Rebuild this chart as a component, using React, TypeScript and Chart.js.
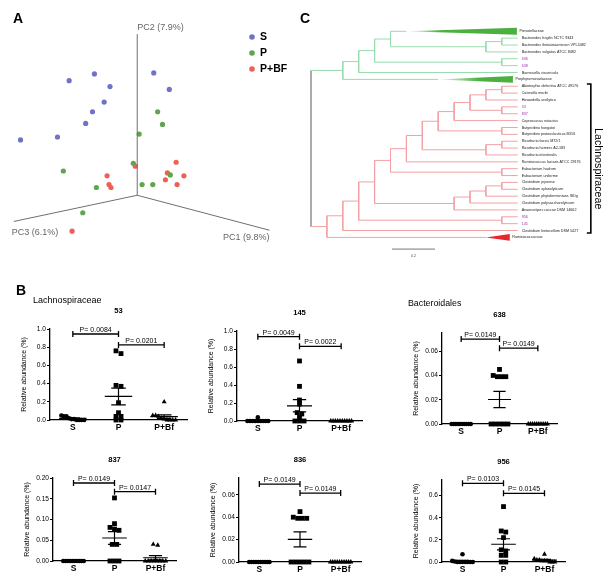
import React, { useEffect, useRef } from 'react';
import { Chart, registerables } from 'chart.js';

Chart.register(...registerables);

const FONT = "'Liberation Sans', Arial, Helvetica, sans-serif";
Chart.defaults.font.family = FONT;

// ---------------- Panel A: PCoA ----------------
const pcaGroupNames = ['S', 'P', 'P+BF'];
const pcaGroupColors = ['#6e73c8', '#5fa54b', '#f05f55'];
const pcaSx = [-70, -44, -28, -34, -46, -53, -82, -120, 17, 33];
const pcaSy = [118, 125, 112, 96, 86, 74, 60, 57, 126, 109];
const pcaPx = [21, 26, 2, -4, -76, -42, 5, 16, 34, -56];
const pcaPy = [86, 73, 63, 33, 25, 8, 11, 11, 21, -18];
const pcaPBFx = [40, -2, -31, 31, 29, 48, 41, -29, -27, -67];
const pcaPBFy = [34, 30, 20, 23, 16, 20, 11, 11, 8, -37];
const pcAxisNames = ['PC1 (9.8%)', 'PC2 (7.9%)', 'PC3 (6.1%)'];
const pcAxisEndX = [136, 0, -127];
const pcAxisEndY = [-36, 166, -27];

// ---------------- Panel C: tree ----------------
const treeLeaves = [
  'Prevotellaceae',
  'Bacteroides fragilis NCTC 9343',
  'Bacteroides thetaiotaomicron VPI-5482',
  'Bacteroides vulgatus ATCC 8482',
  '636',
  '638',
  'Barnesiella viscericola',
  'Porphyromonadaceae',
  'Abiotrophia defectiva ATCC 49176',
  'Catonella morbi',
  'Howardella ureilytica',
  '53',
  '837',
  'Coprococcus eutactus',
  'Butyrivibrio hungatei',
  'Butyrivibrio proteoclasticus B316',
  'Roseburia faecis M72/1',
  'Roseburia hominis A2-183',
  'Roseburia intestinalis',
  'Ruminococcus lactaris ATCC 29176',
  'Eubacterium hadrum',
  'Eubacterium uniforme',
  'Clostridium jejuense',
  'Clostridium xylanolyticum',
  'Clostridium phytofermentans ISDg',
  'Clostridium polysaccharolyticum',
  'Anaerostipes caccae DSM 14662',
  '956',
  '145',
  'Clostridium lentocellum DSM 5427',
  'Ruminococcaceae',
];
type TNode = { d: number; c: (TNode | number)[] };
const nd = (d: number, ...c: (TNode | number)[]): TNode => ({ d, c });
const LEAF_DEPTH = 13;
const treeRoot: TNode = nd(0,
  nd(2, nd(3, nd(4, nd(5, 0, nd(11, nd(12, 1, 2), 3)), nd(12, 4, 5)), 6), 7),
  nd(1,
    nd(2,
      nd(3,
        nd(4,
          nd(5,
            nd(6,
              nd(7,
                nd(8,
                  nd(9,
                    nd(10, nd(11, nd(12, 8, 9), 10), nd(12, 11, 12)),
                    13),
                  nd(12, 14, 15)),
                nd(11, nd(12, 16, 17), 18)),
              19),
            nd(12, 20, 21)),
          nd(9, nd(10, nd(11, nd(12, 22, 23), 24), 25), 26)),
        nd(12, 27, 28)),
      29),
    30)
);
const treeTriangles = [
  { leaf: 0, apex: 6, end: 12.95, color: '#4cb040', fade: 0.3 },
  { leaf: 7, apex: 8, end: 12.7, color: '#4cb040', fade: 0.55 },
  { leaf: 30, apex: 11, end: 12.5, color: '#e8262b', fade: 0 },
];
const GREEN = '#98dcae';
const PINK = '#f3a1a5';
const GRAY = '#a0a0a0';

// ---------------- Panel B: dot plots ----------------
const cats = ['S', 'P', 'P+Bf'];
const s53 = [0.05, 0.04, 0.04, 0.02, 0.01, 0.01, 0, 0, 0, 0];
const p53 = [0.76, 0.73, 0.38, 0.37, 0.19, 0.08, 0.04, 0.04, 0, 0];
const pbf53 = [0.2, 0.05, 0.05, 0.04, 0.02, 0.01, 0, 0, 0, 0];
const s145 = [0.04, 0, 0, 0, 0, 0, 0, 0, 0, 0];
const p145 = [0.667, 0.385, 0.233, 0.189, 0.093, 0.078, 0.04, 0, 0, 0];
const pbf145 = [0, 0, 0, 0, 0, 0, 0, 0, 0, 0];
const s638 = [0, 0, 0, 0, 0, 0, 0, 0, 0, 0];
const p638 = [0.045, 0.04, 0.039, 0.039, 0.039, 0, 0, 0, 0, 0];
const pbf638 = [0, 0, 0, 0, 0, 0, 0, 0, 0, 0];
const s837 = [0, 0, 0, 0, 0, 0, 0, 0, 0, 0];
const p837 = [0.152, 0.09, 0.081, 0.077, 0.074, 0.04, 0.04, 0, 0, 0];
const pbf837 = [0.04, 0.038, 0, 0, 0, 0, 0, 0, 0, 0];
const s836 = [0, 0, 0, 0, 0, 0, 0, 0, 0, 0];
const p836 = [0.045, 0.04, 0.039, 0.039, 0.039, 0, 0, 0, 0, 0];
const pbf836 = [0, 0, 0, 0, 0, 0, 0, 0, 0, 0];
const s956 = [0.07, 0.01, 0.005, 0, 0, 0, 0, 0, 0, 0];
const p956 = [0.5, 0.28, 0.27, 0.22, 0.11, 0.1, 0.06, 0.06, 0, 0];
const pbf956 = [0.07, 0.03, 0.02, 0.02, 0.01, 0.01, 0.01, 0, 0, 0];

const plotTitles = ['53', '145', '638', '837', '836', '956'];
const plotYMax = [1.0, 1.0, 0.075, 0.2, 0.075, 0.74];
const plotYStep = [0.2, 0.2, 0.02, 0.05, 0.02, 0.2];
const plotYDec = [1, 1, 2, 2, 2, 1];
const bracketLevels = [[0.945, 0.825], [0.937, 0.83], [0.07, 0.0625], [0.188, 0.167], [0.0696, 0.0615], [0.71, 0.62]];
const bracketLabels = [
  ['P= 0.0084', 'P= 0.0201'],
  ['P= 0.0049', 'P= 0.0022'],
  ['P= 0.0149', 'P= 0.0149'],
  ['P= 0.0149', 'P= 0.0147'],
  ['P= 0.0149', 'P= 0.0149'],
  ['P= 0.0103', 'P= 0.0145'],
];
const plotGroups = [
  [s53, p53, pbf53],
  [s145, p145, pbf145],
  [s638, p638, pbf638],
  [s837, p837, pbf837],
  [s836, p836, pbf836],
  [s956, p956, pbf956],
];
// layout boxes: axis x, right end, top, bottom (page px)
const plotBoxes = [
  [50, 187, 329, 420],
  [237, 362, 331, 421],
  [442, 557, 333, 424],
  [53, 176, 478, 561],
  [239, 361, 478, 562],
  [442, 565, 480, 562],
];

const Y_AXIS_W = 45;
const PAD_TOP = 40;
const PAD_RIGHT = 12;
const X_AXIS_H = 20;
const GAP = { x: NaN, y: NaN };

function mean(a: number[]) { return a.reduce((s, v) => s + v, 0) / a.length; }
function sem(a: number[]) {
  const m = mean(a);
  const v = a.reduce((s, x) => s + (x - m) * (x - m), 0) / (a.length - 1);
  return Math.sqrt(v / a.length);
}

function swarm(values: number[], center: number, ymax: number) {
  const idx = values.map((_, i) => i).sort((a, b) => values[b] - values[a]);
  const pts: { x: number; y: number }[] = [];
  let cluster: number[] = [];
  const flush = () => {
    const n = cluster.length;
    const sp = n > 1 ? Math.min(0.11, 0.5 / (n - 1)) : 0;
    cluster.forEach((i, k) => pts.push({ x: center + (k - (n - 1) / 2) * sp, y: values[i] }));
    cluster = [];
  };
  for (const i of idx) {
    if (cluster.length && values[cluster[cluster.length - 1]] - values[i] > 0.035 * ymax) flush();
    cluster.push(i);
  }
  flush();
  return pts;
}

function ChartCanvas({ left, top, width, height, make }: any) {
  const ref = useRef<HTMLCanvasElement>(null);
  useEffect(() => {
    const chart = new Chart(ref.current as HTMLCanvasElement, make());
    return () => chart.destroy();
  }, []);
  return (
    <canvas
      ref={ref}
      width={width}
      height={height}
      style={{ position: 'absolute', left, top, width, height }}
    />
  );
}

function makePanelA() {
  const groupsX = [pcaSx, pcaPx, pcaPBFx];
  const groupsY = [pcaSy, pcaPy, pcaPBFy];
  const datasets: any[] = pcAxisEndX.map((ex, i) => ({
    data: [{ x: 0, y: 0 }, { x: ex, y: pcAxisEndY[i] }],
    showLine: true,
    borderColor: '#6f6f6f',
    borderWidth: 1,
    pointRadius: 0,
  }));
  groupsX.forEach((gx, g) => {
    datasets.push({
      data: gx.map((x, i) => ({ x, y: groupsY[g][i] })),
      pointRadius: 2.6,
      backgroundColor: pcaGroupColors[g],
      borderWidth: 0,
    });
  });
  const labelOffsets: [number, number, CanvasTextAlign][] = [[0, 7, 'right'], [0, -7, 'left'], [-2, 11, 'left']];
  const plugin = {
    id: 'pcaDeco',
    afterDraw(chart: any) {
      const ctx = chart.ctx;
      const xs = chart.scales.x, ys = chart.scales.y;
      ctx.save();
      ctx.fillStyle = '#666';
      ctx.font = `9px ${FONT}`;
      ctx.textBaseline = 'middle';
      pcAxisNames.forEach((name, i) => {
        const [dx, dy, al] = labelOffsets[i];
        ctx.textAlign = al;
        ctx.fillText(name, xs.getPixelForValue(pcAxisEndX[i]) + dx, ys.getPixelForValue(pcAxisEndY[i]) + dy);
      });
      pcaGroupNames.forEach((name, i) => {
        const y = 37 + 16 * i;
        ctx.fillStyle = pcaGroupColors[i];
        ctx.beginPath();
        ctx.arc(252, y, 2.8, 0, Math.PI * 2);
        ctx.fill();
        ctx.fillStyle = '#000';
        ctx.font = `bold 10.5px ${FONT}`;
        ctx.textAlign = 'left';
        ctx.fillText(name, 260, y);
      });
      ctx.restore();
    },
  };
  return {
    type: 'scatter',
    data: { datasets },
    options: {
      animation: false,
      responsive: false,
      events: [],
      layout: { padding: 0 },
      plugins: { legend: { display: false }, tooltip: { enabled: false } },
      scales: {
        x: { type: 'linear', display: false, min: -137, max: 153 },
        y: { type: 'linear', display: false, min: -78, max: 197 },
      },
    },
    plugins: [plugin],
  };
}

function makePanelC() {
  const segs: Record<string, any[]> = { [GREEN]: [], [PINK]: [], [GRAY]: [] };
  const add = (c: string, x1: number, y1: number, x2: number, y2: number) => {
    segs[c].push({ x: x1, y: y1 }, { x: x2, y: y2 }, GAP);
  };
  const lay = (node: TNode, color: string): number => {
    const isRoot = node === treeRoot;
    const ys = node.c.map((ch, k) => {
      const cc = isRoot ? (k === 0 ? GREEN : PINK) : color;
      if (typeof ch === 'number') {
        const tri = treeTriangles.find((t) => t.leaf === ch);
        add(cc, node.d, ch, tri ? tri.apex : LEAF_DEPTH, ch);
        return ch;
      }
      const y = lay(ch, cc);
      add(cc, node.d, y, ch.d, y);
      return y;
    });
    add(isRoot ? GRAY : color, node.d, ys[0], node.d, ys[ys.length - 1]);
    return (ys[0] + ys[ys.length - 1]) / 2;
  };
  lay(treeRoot, GRAY);
  const datasets: any[] = [GREEN, PINK, GRAY].map((c) => ({
    data: segs[c],
    showLine: true,
    spanGaps: false,
    borderColor: c,
    borderWidth: 1,
    pointRadius: 0,
  }));
  // Lachnospiraceae bracket
  datasets.push({
    data: [{ x: 17.35, y: 7.67 }, { x: 17.6, y: 7.67 }, { x: 17.6, y: 29.35 }, { x: 17.35, y: 29.35 }],
    showLine: true,
    borderColor: '#000',
    borderWidth: 1.6,
    pointRadius: 0,
  });
  // scale bar
  datasets.push({
    data: [{ x: 5.09, y: 31.7 }, { x: 7.8, y: 31.7 }],
    showLine: true,
    borderColor: '#777',
    borderWidth: 1,
    pointRadius: 0,
  });
  const plugin = {
    id: 'treeDeco',
    afterDatasetsDraw(chart: any) {
      const ctx = chart.ctx;
      const xs = chart.scales.x, ys = chart.scales.y;
      ctx.save();
      treeTriangles.forEach((t) => {
        const x0 = xs.getPixelForValue(t.apex), x1 = xs.getPixelForValue(t.end);
        const yc = ys.getPixelForValue(t.leaf);
        const h = Math.abs(ys.getPixelForValue(t.leaf + 0.5) - yc);
        let fill: any = t.color;
        if (t.fade) {
          const g = ctx.createLinearGradient(x0, 0, x1, 0);
          g.addColorStop(0, 'rgba(76,176,64,0.1)');
          g.addColorStop(t.fade, t.color);
          g.addColorStop(1, t.color);
          fill = g;
        }
        ctx.fillStyle = fill;
        ctx.beginPath();
        ctx.moveTo(x0, yc);
        ctx.lineTo(x1, yc - h);
        ctx.lineTo(x1, yc + h);
        ctx.closePath();
        ctx.fill();
      });
      ctx.font = `3.7px ${FONT}`;
      ctx.textBaseline = 'middle';
      ctx.textAlign = 'left';
      treeLeaves.forEach((name, i) => {
        const tri = treeTriangles.find((t) => t.leaf === i);
        const x = tri ? xs.getPixelForValue(tri.end) + 2.5 : xs.getPixelForValue(LEAF_DEPTH) + 4;
        ctx.fillStyle = /^\d+$/.test(name) ? '#9c35b0' : '#222';
        ctx.fillText(name, x, ys.getPixelForValue(i));
      });
      ctx.fillStyle = '#555';
      ctx.textAlign = 'center';
      ctx.fillText('0.2', xs.getPixelForValue(6.45), ys.getPixelForValue(31.7) + 7);
      ctx.translate(xs.getPixelForValue(18.05), ys.getPixelForValue(20));
      ctx.rotate(Math.PI / 2);
      ctx.fillStyle = '#000';
      ctx.font = `10.7px ${FONT}`;
      ctx.textAlign = 'center';
      ctx.fillText('Lachnospiraceae', 0, 0);
      ctx.restore();
    },
  };
  return {
    type: 'scatter',
    data: { datasets },
    options: {
      animation: false,
      responsive: false,
      events: [],
      layout: { padding: 0 },
      plugins: { legend: { display: false }, tooltip: { enabled: false } },
      scales: {
        x: { type: 'linear', display: false, min: -1.3208, max: 18.931 },
        y: { type: 'linear', display: false, min: -4.556, max: 36.201, reverse: true },
      },
    },
    plugins: [plugin],
  };
}

function makeDotPlot(k: number) {
  const groups = plotGroups[k];
  const ymax = plotYMax[k];
  const styles = [
    { ps: 'circle', r: 2.3 },
    { ps: 'rect', r: 3.4 },
    { ps: 'triangle', r: 2.9 },
  ];
  const datasets: any[] = [];
  const ms: any[] = [];
  groups.forEach((vals, g) => {
    const c = g + 1;
    const m = mean(vals);
    const s = sem(vals);
    ms.push(
      { x: c - 0.3, y: m }, { x: c + 0.3, y: m }, GAP,
      { x: c - 0.16, y: m + s }, { x: c + 0.16, y: m + s }, GAP,
      { x: c, y: m + s }, { x: c, y: m - s }, GAP,
      { x: c - 0.16, y: m - s }, { x: c + 0.16, y: m - s }, GAP
    );
  });
  datasets.push({
    data: ms,
    showLine: true,
    spanGaps: false,
    borderColor: '#000',
    borderWidth: 1.2,
    pointRadius: 0,
    clip: false,
  });
  groups.forEach((vals, g) => {
    datasets.push({
      data: swarm(vals, g + 1, ymax),
      pointStyle: styles[g].ps,
      pointRadius: styles[g].r,
      backgroundColor: '#000',
      borderColor: '#000',
      borderWidth: 0,
      clip: false,
    });
  });
  const plugin = {
    id: 'dotDeco' + k,
    afterDraw(chart: any) {
      const ctx = chart.ctx;
      const xs = chart.scales.x, ys = chart.scales.y;
      const a = chart.chartArea;
      ctx.save();
      ctx.fillStyle = '#000';
      ctx.textAlign = 'center';
      ctx.textBaseline = 'alphabetic';
      ctx.font = `bold 7.6px ${FONT}`;
      ctx.fillText(plotTitles[k], (a.left + a.right) / 2, a.top - 16);
      ctx.save();
      ctx.translate(a.left - 26, (a.top + a.bottom) / 2);
      ctx.rotate(-Math.PI / 2);
      ctx.font = `7px ${FONT}`;
      ctx.textBaseline = 'middle';
      ctx.fillText('Relative abundance (%)', 0, 0);
      ctx.restore();
      const pairs = [[1, 2], [2, 3]];
      ctx.strokeStyle = '#000';
      ctx.lineWidth = 1.3;
      ctx.font = `7px ${FONT}`;
      pairs.forEach(([p, q], j) => {
        const y = ys.getPixelForValue(bracketLevels[k][j]);
        const x1 = xs.getPixelForValue(p), x2 = xs.getPixelForValue(q);
        ctx.beginPath();
        ctx.moveTo(x1, y); ctx.lineTo(x2, y);
        ctx.moveTo(x1, y - 3); ctx.lineTo(x1, y + 3);
        ctx.moveTo(x2, y - 3); ctx.lineTo(x2, y + 3);
        ctx.stroke();
        ctx.fillText(bracketLabels[k][j], (x1 + x2) / 2, y - 2);
      });
      ctx.restore();
    },
  };
  const dec = plotYDec[k];
  return {
    type: 'scatter',
    data: { datasets },
    options: {
      animation: false,
      responsive: false,
      events: [],
      layout: { padding: { top: PAD_TOP, right: PAD_RIGHT, left: 0, bottom: 0 } },
      plugins: { legend: { display: false }, tooltip: { enabled: false } },
      scales: {
        x: {
          type: 'linear',
          min: 0.5,
          max: 3.5,
          afterBuildTicks: (s: any) => { s.ticks = [1, 2, 3].map((v) => ({ value: v })); },
          afterFit: (s: any) => { s.height = X_AXIS_H; },
          ticks: {
            callback: (v: any) => cats[Math.round(Number(v)) - 1],
            font: { family: FONT, size: 8.5, weight: 'bold' },
            color: '#000',
            padding: 3,
            maxRotation: 0,
            autoSkip: false,
          },
          grid: { display: false, drawTicks: false },
          border: { display: true, color: '#000', width: 1.3 },
        },
        y: {
          type: 'linear',
          min: 0,
          max: ymax,
          afterFit: (s: any) => { s.width = Y_AXIS_W; },
          ticks: {
            stepSize: plotYStep[k],
            includeBounds: false,
            callback: (v: any) => Number(v).toFixed(dec),
            font: { family: FONT, size: 6.6 },
            color: '#000',
            padding: 1,
          },
          grid: { display: true, drawOnChartArea: false, drawTicks: true, tickLength: 3, color: '#000', lineWidth: 1 },
          border: { display: true, color: '#000', width: 1.3 },
        },
      },
    },
    plugins: [plugin],
  };
}

function Txt({ x, base, size, bold, children }: any) {
  return (
    <div
      style={{
        position: 'absolute',
        left: x,
        top: base - 0.8465 * size,
        fontSize: size,
        lineHeight: size + 'px',
        fontFamily: FONT,
        fontWeight: bold ? 'bold' : 'normal',
        whiteSpace: 'nowrap',
        color: '#000',
      }}
    >
      {children}
    </div>
  );
}

export default function App() {
  return (
    <div
      style={{
        position: 'absolute',
        left: 0,
        top: 0,
        width: 612,
        height: 583,
        background: '#fff',
        overflow: 'hidden',
      }}
    >
      <ChartCanvas left={0} top={0} width={290} height={275} make={makePanelA} />
      <ChartCanvas left={290} top={0} width={322} height={280} make={makePanelC} />
      {plotBoxes.map(([ax, right, top, bottom], k) => (
        <ChartCanvas
          key={k}
          left={ax - Y_AXIS_W}
          top={top - PAD_TOP}
          width={right - ax + Y_AXIS_W + PAD_RIGHT}
          height={bottom - top + PAD_TOP + X_AXIS_H}
          make={() => makeDotPlot(k)}
        />
      ))}
      <Txt x={13} base={23} size={14} bold>A</Txt>
      <Txt x={300} base={23} size={14} bold>C</Txt>
      <Txt x={16} base={295} size={14} bold>B</Txt>
      <Txt x={33} base={304} size={9}>Lachnospiraceae</Txt>
      <Txt x={408} base={306.5} size={8.8}>Bacteroidales</Txt>
    </div>
  );
}
